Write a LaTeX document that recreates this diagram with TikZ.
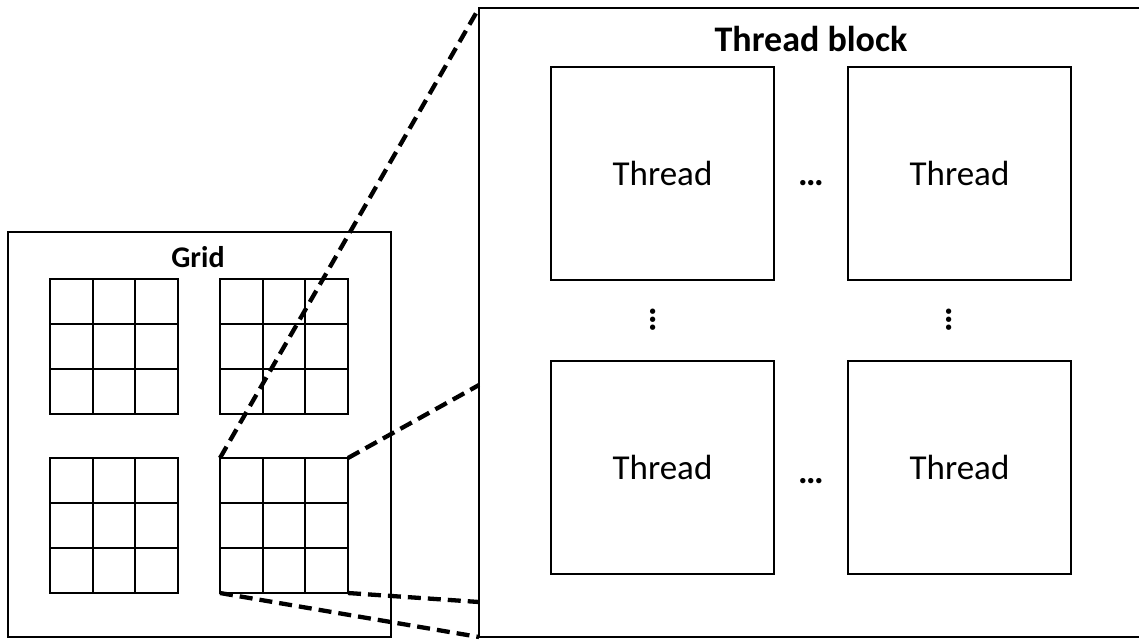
\documentclass[tikz,border=0pt]{standalone}
\usepackage{fontspec}
\setmainfont{Carlito}
\usetikzlibrary{calc}
\begin{document}
\begin{tikzpicture}[x=1pt,y=-1pt,
  frame/.style={draw, line width=1.3pt, inner sep=0pt, outer sep=0pt, anchor=north west},
  subgrid/.style={draw, line width=1.8pt, inner sep=0pt, outer sep=0pt, anchor=north west,
                  minimum width=128pt, minimum height=135pt},
  gridline/.style={line width=1.8pt},
  thread/.style={frame, minimum width=223pt, minimum height=213pt,
                 font=\fontsize{35}{40}\selectfont},
  title/.style={font=\bfseries\fontsize{36}{40}\selectfont},
  dots/.style={font=\bfseries\fontsize{36}{40}\selectfont, inner sep=0pt},
  zoomline/.style={line width=4.3pt, dash pattern=on 13pt off 7pt}]
\clip (0,0) rectangle (1139,640);
\fill[white] (0,0) rectangle (1139,640);

% the grid of blocks
\node[frame, minimum width=383pt, minimum height=405pt] (grid) at (8,232) {};
\node[font=\bfseries\fontsize{30}{34}\selectfont] (gridlbl) at (198,257) {Grid};
\foreach \n/\x/\y in {sa/50/279, sb/220/279, sc/50/458, sd/220/458} {
  \node[subgrid] (\n) at (\x,\y) {};
  \foreach \i in {1,2} {
    \draw[gridline] ($(\n.north west)!\i/3!(\n.north east)$) -- ($(\n.south west)!\i/3!(\n.south east)$);
    \draw[gridline] ($(\n.north west)!\i/3!(\n.south west)$) -- ($(\n.north east)!\i/3!(\n.south east)$);
  }
}

% one thread block, enlarged
\node[frame, minimum width=700pt, minimum height=629pt] (block) at (479,8) {};
\node[title] (blocklbl) at (811,39) {Thread block};
\node[thread] (t1) at (551,67) {Thread};
\node[thread] (t2) at (848,67) {Thread};
\node[thread] (t3) at (551,361) {Thread};
\node[thread] (t4) at (848,361) {Thread};
\node[dots, anchor=base] (h1) at (811,185) {…};
\node[dots, anchor=base] (h2) at (811,483) {…};
\node[dots, anchor=base, rotate=90] (v1) at (655,320) {…};
\node[dots, anchor=base, rotate=90] (v2) at (951,320) {…};

% zoom lines from the chosen block
\coordinate (b2) at (479,385);
\coordinate (b3) at (479,602);
\draw[zoomline] (sd.north west) -- (block.north west);
\draw[zoomline] (sd.north east) -- (b2);
\draw[zoomline] (sd.south east) -- (b3);
\draw[zoomline] (sd.south west) -- (block.south west);
\end{tikzpicture}
\end{document}
